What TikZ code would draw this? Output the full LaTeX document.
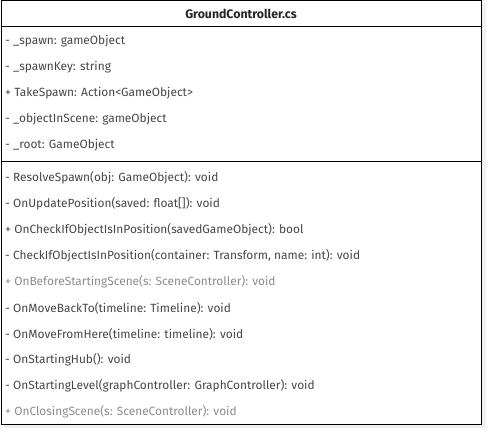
\documentclass[tikz,border=0pt]{standalone}
\usepackage{fontspec}
\setmainfont{Fira Sans}
\begin{document}
\begin{tikzpicture}[x=1pt,y=-1pt,
  row/.style={anchor=west,inner sep=0pt,font=\fontsize{11.9}{13}\selectfont,text=black!72},
  faint/.style={row,text=black!45},
  title/.style={inner sep=0pt,font=\fontsize{12.3}{13}\selectfont\bfseries,text=black!85},
  frame/.style={draw=black,line width=0.9pt},
  shadowbox/.style={fill=blue!30!black!12}]
\useasboundingbox (0,0) rectangle (494,439);
\fill[white] (0,0) rectangle (494,439);
% shadow
\fill[shadowbox,opacity=0.5] (4,4) rectangle (486,428);
\fill[white] (1,0.5) rectangle (481.5,424);
\node[title] (t) at (241,13.5) {GroundController.cs};
\coordinate (tl) at (1,0.5);
\coordinate (br) at (481.5,424);
\coordinate (h1) at (1,26);
\coordinate (h2) at (481.5,26);
\coordinate (s1) at (1,161);
\coordinate (s2) at (481.5,161);
\draw[frame] (tl) rectangle (br);
\draw[frame] (h1) -- (h2);
\draw[frame] (s1) -- (s2);
\node[row] (a1) at (5,41) {- \_spawn: gameObject};
\node[row] (a2) at (5,67) {- \_spawnKey: string};
\node[row] (a3) at (5,93) {+ TakeSpawn: Action<GameObject>};
\node[row] (a4) at (5,119) {- \_objectInScene: gameObject};
\node[row] (a5) at (5,145) {- \_root: GameObject};
\node[row] (m1) at (5,178) {- ResolveSpawn(obj: GameObject): void};
\node[row] (m2) at (5,204) {- OnUpdatePosition(saved: float[]): void};
\node[row] (m3) at (5,230) {+ OnCheckIfObjectIsInPosition(savedGameObject): bool};
\node[row] (m4) at (5,256) {- CheckIfObjectIsInPosition(container: Transform, name: int): void};
\node[faint] (m5) at (5,282) {+ OnBeforeStartingScene(s: SceneController): void};
\node[row] (m6) at (5,308) {- OnMoveBackTo(timeline: Timeline): void};
\node[row] (m7) at (5,334) {- OnMoveFromHere(timeline: timeline): void};
\node[row] (m8) at (5,360) {- OnStartingHub(): void};
\node[row] (m9) at (5,386) {- OnStartingLevel(graphController: GraphController): void};
\node[faint] (m10) at (5,412) {+ OnClosingScene(s: SceneController): void};
\end{tikzpicture}
\end{document}
